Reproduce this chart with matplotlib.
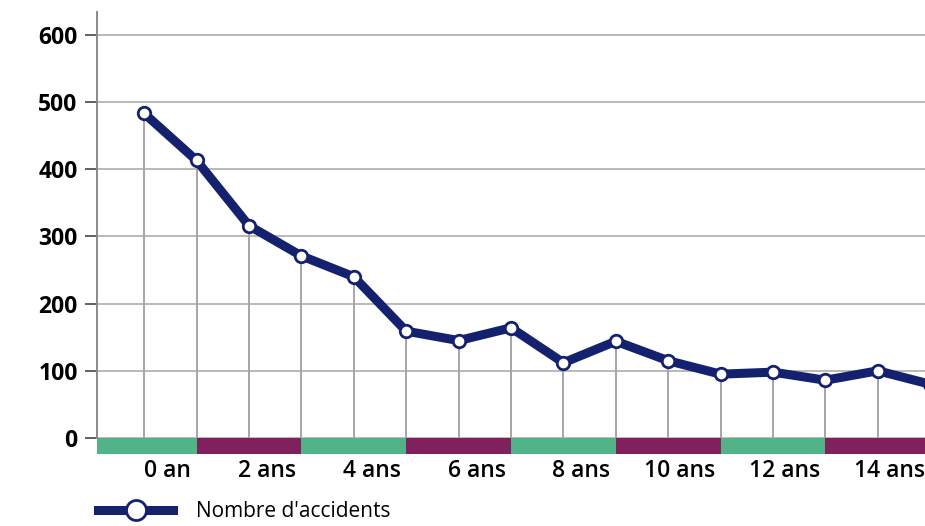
import matplotlib
matplotlib.use("Agg")
import matplotlib.pyplot as plt
import numpy as np

# Data
values = [483, 413, 316, 271, 240, 159, 145, 164, 112, 144, 115, 95, 98, 86, 100, 80]
age_labels = ["0 an", "2 ans", "4 ans", "6 ans", "8 ans", "10 ans", "12 ans", "14 ans"]
band_edges = [-0.9, 1, 3, 5, 7, 9, 11, 13, 15]
band_colors = ["#52b388", "#80205c"] * 4
y_ticks = [0, 100, 200, 300, 400, 500, 600]
series_name = "Nombre d'accidents"

navy = "#13216e"
grid_c = "#a6a6a6"

plt.rcParams['font.family'] = ['Open Sans', 'DejaVu Sans']

fig = plt.figure(figsize=(9.25, 5.26), dpi=100)
ax = fig.add_axes([0.1049, 0.1673, 0.8951, 0.8099])

x = np.arange(len(values))
ax.set_xlim(-0.9, 14.9)
ax.set_ylim(0, 634)

# grid
ax.set_yticks(y_ticks)
ax.yaxis.grid(True, color=grid_c, linewidth=1.1)
ax.set_axisbelow(True)

# drop lines
ax.vlines(x, 0, values, color=grid_c, linewidth=1.4, zorder=1)

# main line
line, = ax.plot(x, values, color=navy, linewidth=6.5, solid_joinstyle='round',
                marker='o', markersize=9, markerfacecolor='white',
                markeredgecolor=navy, markeredgewidth=2.0, zorder=3,
                label=series_name)

# colored bands below axis
lefts = band_edges[:-1]
widths = np.diff(band_edges)
ax.bar(lefts, -24, width=widths, bottom=0, align='edge', color=band_colors,
       clip_on=False, zorder=2, linewidth=0)

# spines
for s in ['top', 'right', 'bottom']:
    ax.spines[s].set_visible(False)
ax.spines['left'].set_color('#8a8a8a')
ax.spines['left'].set_linewidth(1.4)
ax.spines['left'].set_bounds(0, 634)

ax.tick_params(axis='y', length=9, width=1.3, color='#555555', pad=5,
               labelsize=16.5)
for lab in ax.get_yticklabels():
    lab.set_fontweight('bold')
    lab.set_y(lab.get_position()[1])
for lab in ax.get_yticklabels():
    lab.set_verticalalignment('center_baseline')

# x labels
tick_pos = [2 * i + 0.9 for i in range(len(age_labels))]
ax.set_xticks(tick_pos)
ax.set_xticklabels(age_labels, fontsize=16.5, fontweight='semibold', ha='right')
ax.tick_params(axis='x', length=0, pad=15)

# legend
fig.legend(handles=[line], labels=[series_name], loc='center left',
           bbox_to_anchor=(0.097, 0.027), frameon=False, fontsize=15,
           handlelength=3.6, handletextpad=1.1, borderaxespad=0,
           markerscale=1.6)

fig.savefig("out.png", dpi=100)
